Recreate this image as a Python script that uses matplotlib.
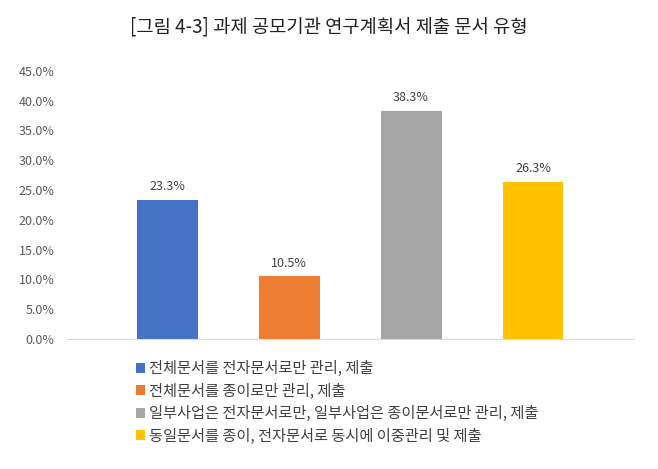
import matplotlib.pyplot as plt

plt.rcParams['font.family'] = ['Noto Sans CJK KR', 'DejaVu Sans']

categories = ["전체문서를 전자문서로만 관리, 제출",
              "전체문서를 종이로만 관리, 제출",
              "일부사업은 전자문서로만, 일부사업은 종이문서로만 관리, 제출",
              "동일문서를 종이, 전자문서로 동시에 이중관리 및 제출"]
values = [23.3, 10.5, 38.3, 26.3]
colors = ["#4472C4", "#ED7D31", "#A5A5A5", "#FFC000"]
yticks = [0, 5, 10, 15, 20, 25, 30, 35, 40, 45]

fig = plt.figure(figsize=(6.58, 4.69), dpi=100)
ax = fig.add_axes([0.102, 0.277, 0.86, 0.572])

x = list(range(len(values)))
bars = ax.bar(x, values, width=0.5, color=colors, zorder=2)
for xi, v in zip(x, values):
    ax.annotate(f"{v:.1f}%", (xi, v), xytext=(0, 5), textcoords="offset points",
                ha="center", va="bottom", fontsize=9, color="#404040")

ax.set_xlim(-0.82, 3.82)
ax.set_ylim(0, 45)
ax.set_yticks(yticks)
ax.set_yticklabels([f"{t:.1f}%" for t in yticks], fontsize=9, color="#595959")
ax.set_xticks([])
ax.tick_params(axis="y", length=0, pad=9)
for s in ["top", "right", "left"]:
    ax.spines[s].set_visible(False)
ax.spines["bottom"].set_color("#D9D9D9")

fig.text(0.5, 0.942, "[그림 4-3] 과제 공모기관 연구계획서 제출 문서 유형",
         ha="center", va="center", fontsize=13.5, color="#222222")

leg = fig.legend(bars, categories, loc="upper left", bbox_to_anchor=(0.206, 0.232),
                 frameon=False, fontsize=11, labelcolor="#404040",
                 handlelength=0.6, handleheight=0.6, handletextpad=0.3,
                 labelspacing=0.36, borderaxespad=0, borderpad=0)

fig.savefig("out.png", dpi=100)
